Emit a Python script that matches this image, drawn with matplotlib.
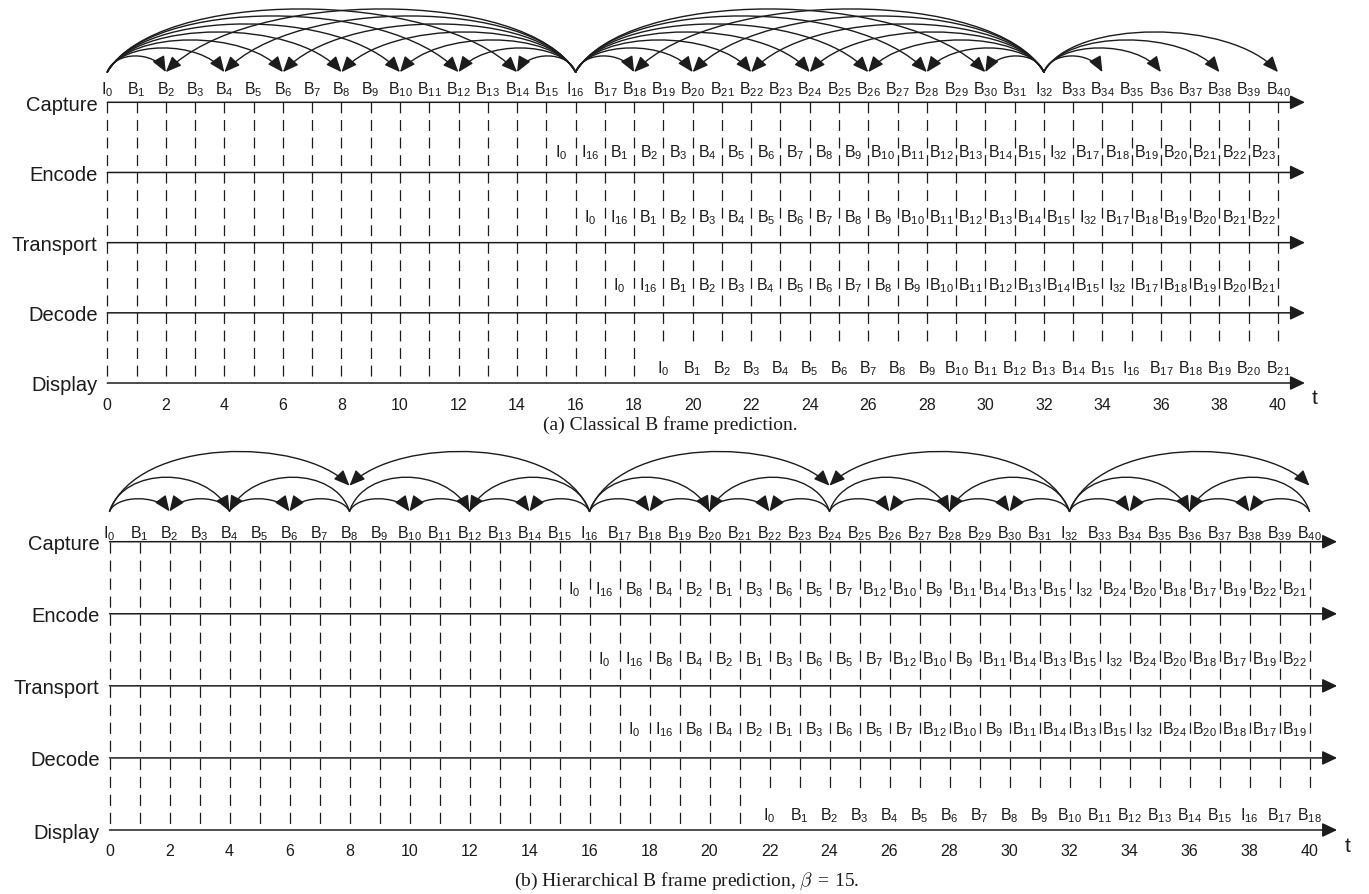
import matplotlib
matplotlib.use('Agg')
import matplotlib.pyplot as plt
from matplotlib.patches import FancyArrowPatch
from matplotlib.path import Path

plt.rcParams['font.family'] = ['Liberation Sans', 'DejaVu Sans']
plt.rcParams['mathtext.fontset'] = 'custom'
plt.rcParams['mathtext.rm'] = 'Liberation Sans'
plt.rcParams['mathtext.it'] = 'Liberation Sans:italic'
plt.rcParams['mathtext.bf'] = 'Liberation Sans:bold'
plt.rcParams['mathtext.default'] = 'regular'
plt.rcParams['lines.scale_dashes'] = False

INK = '#1c1c1c'
W, H = 1369, 895

rows = ['Display', 'Decode', 'Transport', 'Encode', 'Capture']

# frames in capture order, one per time slot 0..40
capture = ('I0 B1 B2 B3 B4 B5 B6 B7 B8 B9 B10 B11 B12 B13 B14 B15 I16 '
           'B17 B18 B19 B20 B21 B22 B23 B24 B25 B26 B27 B28 B29 B30 B31 I32 '
           'B33 B34 B35 B36 B37 B38 B39 B40').split()

# (a) classical B frames
encode_a = ('I0 I16 B1 B2 B3 B4 B5 B6 B7 B8 B9 B10 B11 B12 B13 B14 B15 I32 '
            'B17 B18 B19 B20 B21 B22 B23').split()
transport_a = ('I0 I16 B1 B2 B3 B4 B5 B6 B7 B8 B9 B10 B11 B12 B13 B14 B15 I32 '
               'B17 B18 B19 B20 B21 B22').split()
decode_a = ('I0 I16 B1 B2 B3 B4 B5 B6 B7 B8 B9 B10 B11 B12 B13 B14 B15 I32 '
            'B17 B18 B19 B20 B21').split()
display_a = ('I0 B1 B2 B3 B4 B5 B6 B7 B8 B9 B10 B11 B12 B13 B14 B15 I16 '
             'B17 B18 B19 B20 B21').split()
start_a = [15, 16, 17, 19]   # first slot of encode, transport, decode, display

refs_a = [(0, 2), (0, 4), (0, 6), (0, 8), (0, 10), (0, 12), (0, 14),
          (16, 2), (16, 4), (16, 6), (16, 8), (16, 10), (16, 12), (16, 14),
          (16, 18), (16, 20), (16, 22), (16, 24), (16, 26), (16, 28), (16, 30),
          (32, 18), (32, 20), (32, 22), (32, 24), (32, 26), (32, 28), (32, 30),
          (32, 34), (32, 36), (32, 38), (32, 40)]

# (b) hierarchical B frames
encode_b = ('I0 I16 B8 B4 B2 B1 B3 B6 B5 B7 B12 B10 B9 B11 B14 B13 B15 I32 '
            'B24 B20 B18 B17 B19 B22 B21').split()
transport_b = ('I0 I16 B8 B4 B2 B1 B3 B6 B5 B7 B12 B10 B9 B11 B14 B13 B15 I32 '
               'B24 B20 B18 B17 B19 B22').split()
decode_b = ('I0 I16 B8 B4 B2 B1 B3 B6 B5 B7 B12 B10 B9 B11 B14 B13 B15 I32 '
            'B24 B20 B18 B17 B19').split()
display_b = ('I0 B1 B2 B3 B4 B5 B6 B7 B8 B9 B10 B11 B12 B13 B14 B15 I16 '
             'B17 B18').split()
start_b = [15, 16, 17, 22]

refs_b = [(0, 8), (16, 8), (0, 4), (8, 4), (8, 12), (16, 12),
          (0, 2), (4, 2), (4, 6), (8, 6), (8, 10), (12, 10), (12, 14), (16, 14),
          (16, 24), (32, 24), (16, 20), (24, 20), (24, 28), (32, 28),
          (16, 18), (20, 18), (20, 22), (24, 22), (24, 26), (28, 26), (28, 30), (32, 30),
          (32, 40), (32, 36), (40, 36), (32, 34), (36, 34), (36, 38), (40, 38)]

ticks = list(range(0, 41, 2))


def lab(s):
    return r'$%s_{%s}$' % (s[0], s[1:])


fig = plt.figure(figsize=(W / 100, H / 100), dpi=100)
fig.patch.set_facecolor('white')


def panel(px_l, px_r, px_cap, px_disp, lanes, starts, refs, rise, tall,
          base, tip_hi, offs, caption, cap_y, tick_y):
    unit = (px_disp - px_cap) / 4
    y_lo, y_hi = -0.8, 5.45
    bot = px_disp - y_lo * unit
    top = px_disp - y_hi * unit
    ax = fig.add_axes([px_l / W, 1 - bot / H, (px_r - px_l) / W, (bot - top) / H])
    ax.set_xlim(0, 40)
    ax.set_ylim(y_lo, y_hi)
    ax.axis('off')

    per = unit / 4 * 0.72
    dash = (per * 0.62, per * 0.38)
    for t in range(41):
        y_end = 0 if t < starts[3] else 0.56
        ax.plot([t, t], [4, y_end], color=INK, lw=0.9, dashes=dash,
                solid_capstyle='butt', dash_capstyle='butt', clip_on=False)

    for y, name in enumerate(rows):
        ax.annotate('', xy=(40.92, y), xytext=(0, y), annotation_clip=False,
                    arrowprops=dict(arrowstyle='-|>,head_length=9,head_width=4.3',
                                    mutation_scale=1, lw=1.1, color=INK,
                                    shrinkA=0, shrinkB=0))
        ax.text(-0.33, y - 0.105, name, ha='right', va='baseline',
                fontsize=14.5, color=INK)

    for t, s in enumerate(capture):
        ax.text(t, 4 + offs[4], lab(s), ha='center', va='baseline',
                fontsize=11.5, color=INK)
    for k, (labels, st) in enumerate(zip(lanes, starts)):
        y = 3 - k
        shift = 0 if k == 3 else 0.5
        for i, s in enumerate(labels):
            ax.text(st + i + shift, y + offs[y], lab(s), ha='center',
                    va='baseline', fontsize=11.5, color=INK)

    for t in ticks:
        ax.text(t, tick_y, str(t), ha='center', va='center', fontsize=11.5,
                color=INK)
    ax.text(41.26, -0.21, 't', ha='center', va='center', fontsize=15, color=INK)

    for s, e in refs:
        d = abs(e - s)
        sg = 1 if e > s else -1
        Y = base + rise[d] / unit * 4 / 3
        y1 = tip_hi if d in tall else base
        verts = [(s, base), (s + sg * 0.12 * d, Y), (e - sg * 0.2 * d, Y), (e, y1)]
        p = FancyArrowPatch(path=Path(verts, [Path.MOVETO, Path.CURVE4,
                                              Path.CURVE4, Path.CURVE4]),
                            arrowstyle='-|>,head_length=9.5,head_width=4',
                            mutation_scale=1, lw=1.0, color=INK, clip_on=False)
        ax.add_patch(p)

    ax.text(19.25, cap_y, caption, ha='center', va='center', fontsize=14,
            family='Liberation Serif', math_fontfamily='cm', color=INK)


rise_a = {2: 16, 4: 24, 6: 32, 8: 40, 10: 48, 12: 56, 14: 63}
rise_b = {2: 12.5, 4: 34, 8: 56}

panel(107.3, 1278, 103.3, 384, [encode_a, transport_a, decode_a, display_a],
      start_a, refs_a, rise_a, (), 4.43, 4.43,
      {0: 0.15, 1: 0.34, 2: 0.31, 3: 0.23, 4: 0.13},
      '(a) Classical B frame prediction.', -0.584, -0.30)

panel(109.5, 1309.5, 542.7, 831, [encode_b, transport_b, decode_b, display_b],
      start_b, refs_b, rise_b, (8,), 4.42, 4.777,
      {0: 0.15, 1: 0.34, 2: 0.31, 3: 0.29, 4: 0.06},
      r'(b) Hierarchical B frame prediction, $\mathit{\beta}\,=\,15$.', -0.70, -0.287)

fig.savefig('out.png', dpi=100, facecolor='white')
